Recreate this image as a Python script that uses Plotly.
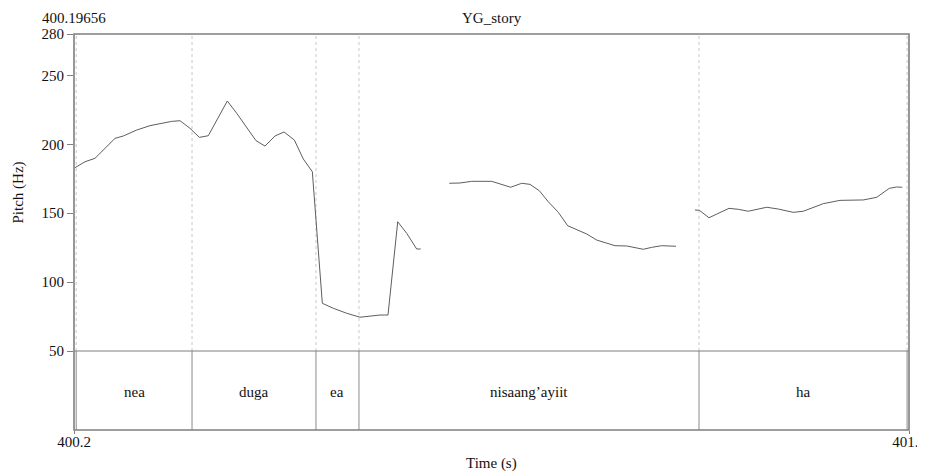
import plotly.graph_objects as go

# ---- data ----
seg1_time = [400.1981, 400.2137, 400.2293, 400.2606, 400.2735, 400.2944, 400.3152, 400.3308,
             400.3491, 400.3620, 400.3776, 400.3922, 400.4062, 400.4359, 400.4505, 400.4807,
             400.4947, 400.5103, 400.5244, 400.5405, 400.5545, 400.5686, 400.5842, 400.6013,
             400.6222, 400.6430, 400.6742, 400.6867, 400.7019, 400.7159, 400.7315, 400.7378]
seg1_hz = [183.0, 187.3, 189.8, 204.3, 206.0, 210.3, 213.5, 214.9,
           216.6, 217.1, 211.6, 205.0, 206.2, 231.4, 222.5, 202.6,
           198.7, 206.0, 208.9, 203.1, 189.3, 180.1, 84.6, 81.0,
           77.4, 74.5, 76.1, 76.1, 143.8, 135.4, 124.0, 124.0]

seg2_time = [400.7824, 400.7991, 400.8174, 400.8486, 400.8783, 400.8954, 400.9084, 400.9229,
             400.9369, 400.9526, 400.9672, 400.9969, 401.0125, 401.0411, 401.0593, 401.0852,
             401.0984, 401.1140, 401.1363]
seg2_hz = [171.7, 171.9, 173.1, 173.1, 168.8, 171.7, 170.9, 166.3,
           158.3, 150.6, 140.9, 134.9, 130.5, 126.4, 126.2, 123.8,
           125.2, 126.4, 126.0]

seg3_time = [401.1659, 401.1727, 401.1878, 401.2023, 401.2190, 401.2335, 401.2491, 401.2779,
             401.2960, 401.3194, 401.3350, 401.3662, 401.3923, 401.4287, 401.4496, 401.4692,
             401.4808, 401.4895]
seg3_hz = [152.3, 152.1, 146.7, 149.9, 153.5, 152.8, 151.4, 154.3,
           153.0, 150.6, 151.4, 156.9, 159.3, 159.6, 161.5, 168.0,
           169.0, 168.8]

tier_bounds = [400.2, 400.3808, 400.5743, 400.6414, 401.1722, 401.497]
tier_labels = ["nea", "duga", "ea", "nisaang\u2019ayiit", "ha"]

x_start, x_end = 400.19656, 401.5
x_tick_text = ["400.2", "401.5"]
y_min, y_max = 50, 280
y_ticks = [50, 100, 150, 200, 250, 280]
title_text = "YG_story"

# ---- figure ----
FONT = "Liberation Serif, Times New Roman, serif"
TXT = "#111111"
LINE = "#5e5e5e"
FRAME = "#7f7f7f"
tier_frac = 79 / 396

fig = go.Figure()
for t, h in [(seg1_time, seg1_hz), (seg2_time, seg2_hz), (seg3_time, seg3_hz)]:
    fig.add_trace(go.Scatter(x=t, y=h, mode="lines", line=dict(color=LINE, width=1),
                             xaxis="x", yaxis="y", showlegend=False, hoverinfo="skip"))

shapes = []
for b in tier_bounds:
    shapes.append(dict(type="line", xref="x", yref="y", x0=b, x1=b, y0=y_min, y1=y_max,
                       line=dict(color="#c8c8c8", width=1, dash="dot"), layer="below"))
    shapes.append(dict(type="line", xref="x", yref="y2", x0=b, x1=b, y0=0, y1=1,
                       line=dict(color="#8a8a8a", width=1)))
shapes.append(dict(type="rect", xref="paper", yref="paper", x0=0, x1=1, y0=0, y1=1,
                   line=dict(color=FRAME, width=1.6)))
shapes.append(dict(type="line", xref="paper", yref="paper", x0=0, x1=1, y0=tier_frac, y1=tier_frac,
                   line=dict(color=FRAME, width=1.2)))

annotations = []
for i, lab in enumerate(tier_labels):
    annotations.append(dict(x=(tier_bounds[i] + tier_bounds[i + 1]) / 2, y=0.5, xref="x", yref="y2",
                            yshift=-1, text=lab, showarrow=False, font=dict(family=FONT, size=15, color=TXT)))
annotations.append(dict(x=0, y=1, xref="paper", yref="paper", yshift=6, yanchor="bottom", xanchor="center",
                        text=f"{x_start:.5f}", showarrow=False, font=dict(family=FONT, size=15, color=TXT)))
annotations.append(dict(x=0.5, y=1, xref="paper", yref="paper", yshift=6, yanchor="bottom", xanchor="center",
                        text=title_text, showarrow=False, font=dict(family=FONT, size=15, color=TXT)))
annotations.append(dict(x=0.5, y=0, xref="paper", yref="paper", yshift=-23, yanchor="top", xanchor="center",
                        text="Time (s)", showarrow=False, font=dict(family=FONT, size=15, color=TXT)))
annotations.append(dict(x=0, y=(tier_frac + 1) / 2, xref="paper", yref="paper", xshift=-56, xanchor="center",
                        yanchor="middle", textangle=-90,
                        text="Pitch (Hz)", showarrow=False, font=dict(family=FONT, size=15, color=TXT)))

# the page adds an 8px body margin, so the figure is 8px smaller than the window
fig.update_layout(
    width=917, height=464,
    margin=dict(l=66, r=16, t=26, b=42, autoexpand=False),
    paper_bgcolor="white", plot_bgcolor="white",
    font=dict(family=FONT, size=15, color=TXT),
    xaxis=dict(range=[x_start, x_end], anchor="y2", showgrid=False, zeroline=False, showline=False,
               automargin=False,
               tickvals=[x_start, x_end], ticktext=x_tick_text, ticks="outside", ticklen=3,
               tickcolor=FRAME, ticklabeloverflow="allow", ticklabelstandoff=-5,
               tickfont=dict(family=FONT, size=15, color=TXT)),
    yaxis=dict(range=[y_min, y_max], domain=[tier_frac, 1], anchor="x", showgrid=False, zeroline=False,
               showline=False, automargin=False, tickvals=y_ticks, ticks="outside", ticklen=6,
               tickcolor=FRAME, tickfont=dict(family=FONT, size=15, color=TXT)),
    yaxis2=dict(range=[0, 1], domain=[0, tier_frac], anchor="x", showgrid=False, zeroline=False,
                showline=False, showticklabels=False, ticks=""),
    shapes=shapes, annotations=annotations,
)

fig.write_html("out.html")
